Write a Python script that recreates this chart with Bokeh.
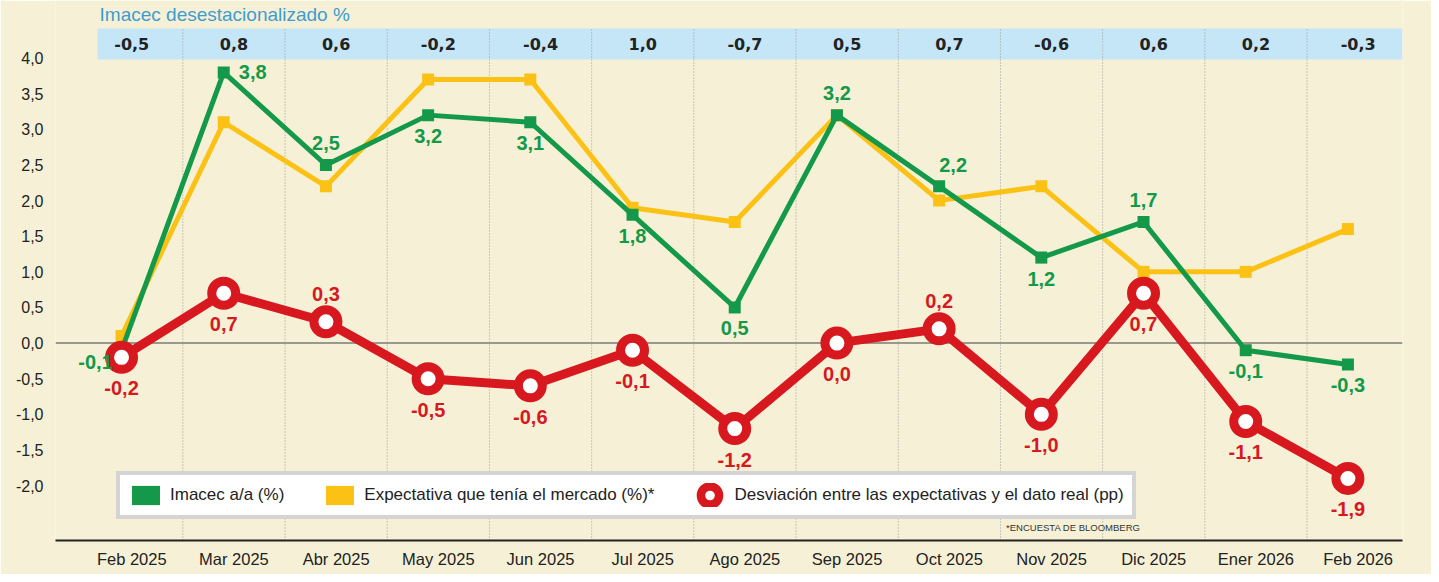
import math
from bokeh.plotting import figure
from bokeh.models import (Range1d, FixedTicker, CustomJSTickFormatter, Span,
                          Legend, LegendItem, Label)
from bokeh.core.properties import value
from bokeh.embed import file_html
from bokeh.resources import INLINE

# ---------------- data ----------------
MONTHS = ["Feb 2025", "Mar 2025", "Abr 2025", "May 2025", "Jun 2025", "Jul 2025",
          "Ago 2025", "Sep 2025", "Oct 2025", "Nov 2025", "Dic 2025", "Ener 2026", "Feb 2026"]
IMACEC = [-0.1, 3.8, 2.5, 3.2, 3.1, 1.8, 0.5, 3.2, 2.2, 1.2, 1.7, -0.1, -0.3]
EXPECTATIVA = [0.1, 3.1, 2.2, 3.7, 3.7, 1.9, 1.7, 3.2, 2.0, 2.2, 1.0, 1.0, 1.6]
DESVIACION = [-0.2, 0.7, 0.3, -0.5, -0.6, -0.1, -1.2, 0.0, 0.2, -1.0, 0.7, -1.1, -1.9]
DESESTACIONALIZADO = [-0.5, 0.8, 0.6, -0.2, -0.4, 1.0, -0.7, 0.5, 0.7, -0.6, 0.6, 0.2, -0.3]
Y_TICKS = [-2.0, -1.5, -1.0, -0.5, 0.0, 0.5, 1.0, 1.5, 2.0, 2.5, 3.0, 3.5, 4.0]

# label placement (relative to the point)
GREEN_POS = ["left", "right", "above", "below", "below", "below", "below",
             "above", "above_right", "below", "above", "below", "below"]
RED_POS = ["below", "below", "above", "below", "below", "below", "below",
           "below", "above", "below", "below", "below", "below"]

# ---------------- styles ----------------
CREAM = "#f6f1d6"
BAND_BLUE = "#c5e6f6"
TITLE_BLUE = "#3d9dcf"
GREEN = "#14994a"
YELLOW = "#fcc115"
RED = "#d7191f"
DARK = "#222222"
FONT = "Liberation Sans"


def fmt(v):
    return f"{v:.1f}".replace(".", ",")


n = len(MONTHS)
xs = list(range(n))
X0, X1 = -0.646, 12.534
Y0, Y1 = -2.771, 4.809

p = figure(width=1431, height=574, x_range=Range1d(X0, X1), y_range=Range1d(Y0, Y1),
           output_backend="svg", toolbar_location=None,
           min_border_left=55, min_border_right=29, min_border_top=0, min_border_bottom=34,
           background_fill_color=CREAM, border_fill_color=CREAM, outline_line_color=None)
p.xgrid.visible = False
p.ygrid.visible = False

# axes
p.yaxis.ticker = FixedTicker(ticks=Y_TICKS)
p.yaxis.formatter = CustomJSTickFormatter(code="return tick.toFixed(1).replace('.', ',')")
p.yaxis.axis_line_color = None
p.yaxis.major_tick_line_color = None
p.yaxis.minor_tick_line_color = None
p.yaxis.major_label_text_font = FONT
p.yaxis.major_label_text_font_size = "16px"
p.yaxis.major_label_text_color = DARK
p.yaxis.major_label_standoff = 6

p.xaxis.ticker = FixedTicker(ticks=[k + 0.1 for k in xs])
p.xaxis.formatter = CustomJSTickFormatter(args=dict(labels=MONTHS),
                                          code="return labels[Math.round(tick - 0.1)]")
p.xaxis.axis_line_color = DARK
p.xaxis.axis_line_width = 2
p.xaxis.major_tick_line_color = None
p.xaxis.minor_tick_line_color = None
p.xaxis.major_label_text_font = FONT
p.xaxis.major_label_text_font_size = "16.5px"
p.xaxis.major_label_text_color = DARK
p.xaxis.major_label_standoff = 3

# top band with seasonally adjusted values
BAND_BOTTOM, BAND_TOP = 3.982, 4.417
p.quad(left=[-0.235], right=[X1], bottom=[BAND_BOTTOM], top=[BAND_TOP],
       fill_color=BAND_BLUE, line_color=None)

# dotted separators
seps = [k + 0.6 for k in range(n - 1)]
p.segment(x0=seps, x1=seps, y0=[Y0] * len(seps), y1=[BAND_TOP] * len(seps),
          line_color="#9a9a9a", line_width=1, line_dash="1 2")

p.text(x=[k + 0.1 for k in xs], y=[(BAND_BOTTOM + BAND_TOP) / 2] * n,
       text=[fmt(v) for v in DESESTACIONALIZADO],
       text_font=value("DejaVu Sans"), text_font_style="bold", text_font_size="16px",
       text_color=DARK, text_align="center", text_baseline="middle")

p.add_layout(Label(x=-0.215, y=4.613, text="Imacec desestacionalizado %",
                   text_font=FONT, text_font_size="19px", text_color=TITLE_BLUE,
                   text_align="left", text_baseline="middle"))

# zero line
p.add_layout(Span(location=0, dimension="width", line_color="#7a7a7a",
                  line_width=1.5, level="underlay"))

# series
p.line(xs, EXPECTATIVA, line_color=YELLOW, line_width=5)
p.scatter(xs, EXPECTATIVA, marker="square", size=12, fill_color=YELLOW, line_color=None)
p.line(xs, IMACEC, line_color=GREEN, line_width=5)
p.scatter(xs, IMACEC, marker="square", size=12, fill_color=GREEN, line_color=None)
p.line(xs, DESVIACION, line_color=RED, line_width=9)
p.scatter(xs, DESVIACION, marker="circle", size=24, fill_color="white",
          line_color=RED, line_width=9)

# value labels
GOFF = {"above": (0, -22), "below": (0, 21), "left": (-26, 12),
        "right": (29, 0), "above_right": (14, -21)}
ROFF = {"above": (0, -28), "below": (0, 31)}

p.text(x=xs, y=IMACEC, text=[fmt(v) for v in IMACEC],
       x_offset=[GOFF[s][0] for s in GREEN_POS], y_offset=[GOFF[s][1] for s in GREEN_POS],
       text_font=value(FONT), text_font_style="bold", text_font_size="20px",
       text_color=GREEN, text_align="center", text_baseline="middle")
p.text(x=xs, y=DESVIACION, text=[fmt(v) for v in DESVIACION],
       x_offset=[ROFF[s][0] for s in RED_POS], y_offset=[ROFF[s][1] for s in RED_POS],
       text_font=value(FONT), text_font_style="bold", text_font_size="20px",
       text_color=RED, text_align="center", text_baseline="middle")

# legend (dummy renderers for the swatches)
nan = float("nan")
lg_green = p.quad(left=[nan], right=[nan], top=[nan], bottom=[nan],
                  fill_color=GREEN, line_color=None)
lg_yellow = p.quad(left=[nan], right=[nan], top=[nan], bottom=[nan],
                   fill_color=YELLOW, line_color=None)
lg_ring = p.scatter(x=[nan], y=[nan], marker="circle", size=1, fill_color=None,
                    line_color=RED, line_width=17)
lg_dot = p.scatter(x=[nan], y=[nan], marker="circle", size=1, fill_color="white",
                   line_color=None)

legend = Legend(items=[
    LegendItem(label="Imacec a/a (%)", renderers=[lg_green]),
    LegendItem(label="Expectativa que tenía el mercado (%)*", renderers=[lg_yellow]),
    LegendItem(label="Desviación entre las expectativas y el dato real (pp)",
               renderers=[lg_ring, lg_dot]),
], orientation="horizontal", location=(61, 21),
    glyph_width=35, glyph_height=24, padding=8, spacing=38, label_standoff=7,
    margin=0, border_line_color="#aaaaaa", border_line_width=4,
    background_fill_color="white", background_fill_alpha=1.0,
    label_text_font=FONT, label_text_font_size="17px", label_text_color=DARK)
p.add_layout(legend)

p.add_layout(Label(x=9.97, y=-2.59, text="*ENCUESTA DE BLOOMBERG",
                   text_font=FONT, text_font_size="9.5px", text_color="#333333",
                   text_align="right", text_baseline="middle"))

open("out.html", "w").write(file_html(p, INLINE))
